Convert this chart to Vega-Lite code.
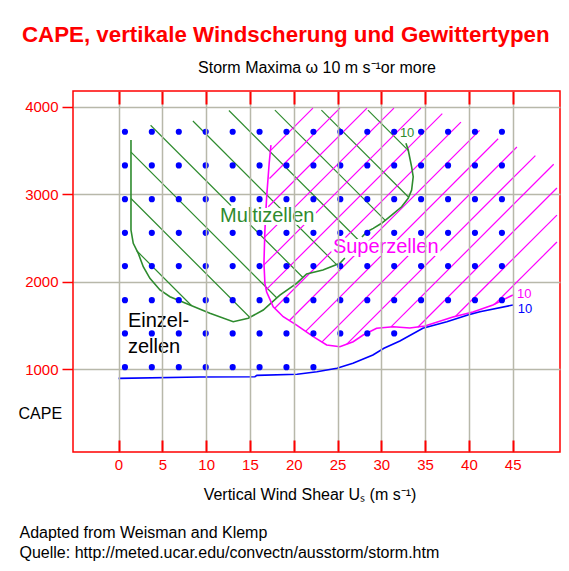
{
  "$schema": "https://vega.github.io/schema/vega-lite/v6.json",
  "width": 487,
  "height": 361,
  "autosize": "none",
  "padding": {"left": 73, "top": 91, "right": 9, "bottom": 119},
  "background": "#ffffff",
  "title": {
    "text": "CAPE, vertikale Windscherung und Gewittertypen",
    "color": "#ff0000",
    "font": "Liberation Sans",
    "fontSize": 22.3,
    "fontWeight": "bold",
    "anchor": "start",
    "frame": "group",
    "dx": -51,
    "offset": 13
  },
  "datasets": {
    "dots": [
      {"x": 0.73, "y": 3715}, {"x": 3.8, "y": 3715}, {"x": 6.88, "y": 3715}, {"x": 9.95, "y": 3715}, {"x": 13.03, "y": 3715}, {"x": 16.1, "y": 3715}, {"x": 19.17, "y": 3715}, {"x": 22.25, "y": 3715}, {"x": 25.32, "y": 3715}, {"x": 28.4, "y": 3715}, {"x": 31.47, "y": 3715}, {"x": 34.54, "y": 3715}, {"x": 37.62, "y": 3715}, {"x": 40.69, "y": 3715}, {"x": 43.77, "y": 3715},
      {"x": 0.73, "y": 3330}, {"x": 3.8, "y": 3330}, {"x": 6.88, "y": 3330}, {"x": 9.95, "y": 3330}, {"x": 13.03, "y": 3330}, {"x": 16.1, "y": 3330}, {"x": 19.17, "y": 3330}, {"x": 22.25, "y": 3330}, {"x": 25.32, "y": 3330}, {"x": 28.4, "y": 3330}, {"x": 31.47, "y": 3330}, {"x": 34.54, "y": 3330}, {"x": 37.62, "y": 3330}, {"x": 40.69, "y": 3330}, {"x": 43.77, "y": 3330},
      {"x": 0.73, "y": 2945}, {"x": 3.8, "y": 2945}, {"x": 6.88, "y": 2945}, {"x": 9.95, "y": 2945}, {"x": 13.03, "y": 2945}, {"x": 16.1, "y": 2945}, {"x": 19.17, "y": 2945}, {"x": 22.25, "y": 2945}, {"x": 25.32, "y": 2945}, {"x": 28.4, "y": 2945}, {"x": 31.47, "y": 2945}, {"x": 34.54, "y": 2945}, {"x": 37.62, "y": 2945}, {"x": 40.69, "y": 2945}, {"x": 43.77, "y": 2945},
      {"x": 0.73, "y": 2560}, {"x": 3.8, "y": 2560}, {"x": 6.88, "y": 2560}, {"x": 9.95, "y": 2560}, {"x": 13.03, "y": 2560}, {"x": 16.1, "y": 2560}, {"x": 19.17, "y": 2560}, {"x": 22.25, "y": 2560}, {"x": 25.32, "y": 2560}, {"x": 28.4, "y": 2560}, {"x": 31.47, "y": 2560}, {"x": 34.54, "y": 2560}, {"x": 37.62, "y": 2560}, {"x": 40.69, "y": 2560}, {"x": 43.77, "y": 2560},
      {"x": 0.73, "y": 2180}, {"x": 3.8, "y": 2180}, {"x": 6.88, "y": 2180}, {"x": 9.95, "y": 2180}, {"x": 13.03, "y": 2180}, {"x": 16.1, "y": 2180}, {"x": 19.17, "y": 2180}, {"x": 22.25, "y": 2180}, {"x": 25.32, "y": 2180}, {"x": 28.4, "y": 2180}, {"x": 31.47, "y": 2180}, {"x": 34.54, "y": 2180}, {"x": 37.62, "y": 2180}, {"x": 40.69, "y": 2180}, {"x": 43.77, "y": 2180},
      {"x": 0.73, "y": 1790}, {"x": 3.8, "y": 1790}, {"x": 6.88, "y": 1790}, {"x": 9.95, "y": 1790}, {"x": 13.03, "y": 1790}, {"x": 16.1, "y": 1790}, {"x": 19.17, "y": 1790}, {"x": 22.25, "y": 1790}, {"x": 25.32, "y": 1790}, {"x": 28.4, "y": 1790}, {"x": 31.47, "y": 1790}, {"x": 34.54, "y": 1790}, {"x": 37.62, "y": 1790}, {"x": 40.69, "y": 1790}, {"x": 43.77, "y": 1790},
      {"x": 0.73, "y": 1410}, {"x": 3.8, "y": 1410}, {"x": 6.88, "y": 1410}, {"x": 9.95, "y": 1410}, {"x": 13.03, "y": 1410}, {"x": 16.1, "y": 1410}, {"x": 19.17, "y": 1410}, {"x": 22.25, "y": 1410}, {"x": 25.32, "y": 1410}, {"x": 28.4, "y": 1410}, {"x": 31.47, "y": 1410},
      {"x": 0.73, "y": 1025}, {"x": 3.8, "y": 1025}, {"x": 6.88, "y": 1025}, {"x": 9.95, "y": 1025}, {"x": 13.03, "y": 1025}, {"x": 16.1, "y": 1025}, {"x": 19.17, "y": 1025}, {"x": 22.25, "y": 1025}
    ],
    "contours": [
      {"line": "multi-a", "typ": "multi", "i": 0, "x": 1.42, "y": 3621},
      {"line": "multi-a", "typ": "multi", "i": 1, "x": 1.42, "y": 2592},
      {"line": "multi-a", "typ": "multi", "i": 2, "x": 1.68, "y": 2440},
      {"line": "multi-a", "typ": "multi", "i": 3, "x": 2.25, "y": 2326},
      {"line": "multi-a", "typ": "multi", "i": 4, "x": 2.82, "y": 2173},
      {"line": "multi-a", "typ": "multi", "i": 5, "x": 3.58, "y": 2040},
      {"line": "multi-a", "typ": "multi", "i": 6, "x": 4.73, "y": 1907},
      {"line": "multi-a", "typ": "multi", "i": 7, "x": 5.87, "y": 1830},
      {"line": "multi-a", "typ": "multi", "i": 8, "x": 8.15, "y": 1735},
      {"line": "multi-a", "typ": "multi", "i": 9, "x": 10.43, "y": 1640},
      {"line": "multi-a", "typ": "multi", "i": 10, "x": 13.09, "y": 1544},
      {"line": "multi-a", "typ": "multi", "i": 11, "x": 14.81, "y": 1583},
      {"line": "multi-a", "typ": "multi", "i": 12, "x": 16.52, "y": 1678},
      {"line": "multi-a", "typ": "multi", "i": 13, "x": 18.42, "y": 1849},
      {"line": "multi-a", "typ": "multi", "i": 14, "x": 20.33, "y": 1983},
      {"line": "multi-a", "typ": "multi", "i": 15, "x": 21.47, "y": 2089},
      {"line": "multi-a", "typ": "multi", "i": 16, "x": 23.33, "y": 2135},
      {"line": "multi-a", "typ": "multi", "i": 17, "x": 25.27, "y": 2211},
      {"line": "multi-a", "typ": "multi", "i": 18, "x": 25.84, "y": 2272},
      {"line": "multi-b", "typ": "multi", "i": 0, "x": 27.79, "y": 2512},
      {"line": "multi-b", "typ": "multi", "i": 1, "x": 28.36, "y": 2573},
      {"line": "multi-b", "typ": "multi", "i": 2, "x": 29.08, "y": 2611},
      {"line": "multi-b", "typ": "multi", "i": 3, "x": 30.03, "y": 2669},
      {"line": "multi-b", "typ": "multi", "i": 4, "x": 31.18, "y": 2763},
      {"line": "multi-b", "typ": "multi", "i": 5, "x": 32.32, "y": 2858},
      {"line": "multi-b", "typ": "multi", "i": 6, "x": 33.07, "y": 2954},
      {"line": "multi-b", "typ": "multi", "i": 7, "x": 33.46, "y": 3049},
      {"line": "multi-b", "typ": "multi", "i": 8, "x": 33.64, "y": 3201},
      {"line": "multi-b", "typ": "multi", "i": 9, "x": 33.46, "y": 3315},
      {"line": "multi-b", "typ": "multi", "i": 10, "x": 33.07, "y": 3506},
      {"line": "multi-b", "typ": "multi", "i": 11, "x": 32.81, "y": 3583},
      {"line": "super", "typ": "super", "i": 0, "x": 17.4, "y": 3563},
      {"line": "super", "typ": "super", "i": 1, "x": 17.2, "y": 3358},
      {"line": "super", "typ": "super", "i": 2, "x": 16.91, "y": 2973},
      {"line": "super", "typ": "super", "i": 3, "x": 16.71, "y": 2592},
      {"line": "super", "typ": "super", "i": 4, "x": 16.6, "y": 2215},
      {"line": "super", "typ": "super", "i": 5, "x": 16.71, "y": 1983},
      {"line": "super", "typ": "super", "i": 6, "x": 16.91, "y": 1883},
      {"line": "super", "typ": "super", "i": 7, "x": 17.66, "y": 1715},
      {"line": "super", "typ": "super", "i": 8, "x": 18.8, "y": 1601},
      {"line": "super", "typ": "super", "i": 9, "x": 20.33, "y": 1506},
      {"line": "super", "typ": "super", "i": 10, "x": 22.23, "y": 1373},
      {"line": "super", "typ": "super", "i": 11, "x": 23.76, "y": 1278},
      {"line": "super", "typ": "super", "i": 12, "x": 25.27, "y": 1258},
      {"line": "super", "typ": "super", "i": 13, "x": 26.79, "y": 1315},
      {"line": "super", "typ": "super", "i": 14, "x": 27.93, "y": 1392},
      {"line": "super", "typ": "super", "i": 15, "x": 29.46, "y": 1469},
      {"line": "super", "typ": "super", "i": 16, "x": 31.36, "y": 1487},
      {"line": "super", "typ": "super", "i": 17, "x": 33.26, "y": 1472},
      {"line": "super", "typ": "super", "i": 18, "x": 34.98, "y": 1495},
      {"line": "super", "typ": "super", "i": 19, "x": 38.17, "y": 1598},
      {"line": "super", "typ": "super", "i": 20, "x": 40.46, "y": 1655},
      {"line": "super", "typ": "super", "i": 21, "x": 42.74, "y": 1735},
      {"line": "super", "typ": "super", "i": 22, "x": 45.02, "y": 1849},
      {"line": "grenze", "typ": "grenze", "i": 0, "x": 0.0, "y": 897},
      {"line": "grenze", "typ": "grenze", "i": 1, "x": 9.29, "y": 912},
      {"line": "grenze", "typ": "grenze", "i": 2, "x": 15.57, "y": 915},
      {"line": "grenze", "typ": "grenze", "i": 3, "x": 15.8, "y": 931},
      {"line": "grenze", "typ": "grenze", "i": 4, "x": 20.39, "y": 943},
      {"line": "grenze", "typ": "grenze", "i": 5, "x": 22.65, "y": 973},
      {"line": "grenze", "typ": "grenze", "i": 6, "x": 24.93, "y": 1012},
      {"line": "grenze", "typ": "grenze", "i": 7, "x": 26.76, "y": 1069},
      {"line": "grenze", "typ": "grenze", "i": 8, "x": 29.04, "y": 1164},
      {"line": "grenze", "typ": "grenze", "i": 9, "x": 30.3, "y": 1240},
      {"line": "grenze", "typ": "grenze", "i": 10, "x": 32.12, "y": 1323},
      {"line": "grenze", "typ": "grenze", "i": 11, "x": 34.74, "y": 1469},
      {"line": "grenze", "typ": "grenze", "i": 12, "x": 37.48, "y": 1544},
      {"line": "grenze", "typ": "grenze", "i": 13, "x": 39.88, "y": 1620},
      {"line": "grenze", "typ": "grenze", "i": 14, "x": 41.26, "y": 1658},
      {"line": "grenze", "typ": "grenze", "i": 15, "x": 45.02, "y": 1735}
    ],
    "hatch": [
      {"typ": "multi", "x": 2.1, "y": 2352, "x2": 8.32, "y2": 1729},
      {"typ": "multi", "x": 1.42, "y": 2952, "x2": 15.0, "y2": 1592},
      {"typ": "multi", "x": 1.42, "y": 3483, "x2": 18.08, "y2": 1815},
      {"typ": "multi", "x": 3.66, "y": 3790, "x2": 21.05, "y2": 2049},
      {"typ": "multi", "x": 8.49, "y": 3838, "x2": 24.89, "y2": 2197},
      {"typ": "multi", "x": 12.6, "y": 3958, "x2": 27.44, "y2": 2472},
      {"typ": "multi", "x": 17.85, "y": 3963, "x2": 30.45, "y2": 2703},
      {"typ": "multi", "x": 23.16, "y": 3963, "x2": 33.12, "y2": 2967},
      {"typ": "multi", "x": 28.47, "y": 3963, "x2": 33.07, "y2": 3503},
      {"typ": "super", "x": 17.4, "y": 3506, "x2": 22.19, "y2": 3986},
      {"typ": "super", "x": 17.23, "y": 3181, "x2": 25.27, "y2": 3986},
      {"typ": "super", "x": 17.09, "y": 2858, "x2": 28.36, "y2": 3986},
      {"typ": "super", "x": 16.71, "y": 2513, "x2": 31.44, "y2": 3986},
      {"typ": "super", "x": 16.6, "y": 2193, "x2": 34.52, "y2": 3986},
      {"typ": "super", "x": 16.86, "y": 1910, "x2": 36.96, "y2": 3922},
      {"typ": "super", "x": 17.83, "y": 1698, "x2": 39.09, "y2": 3826},
      {"typ": "super", "x": 19.51, "y": 1558, "x2": 41.22, "y2": 3731},
      {"typ": "super", "x": 21.36, "y": 1434, "x2": 43.34, "y2": 3635},
      {"typ": "super", "x": 23.21, "y": 1311, "x2": 45.48, "y2": 3541},
      {"typ": "super", "x": 26.06, "y": 1288, "x2": 47.59, "y2": 3443},
      {"typ": "super", "x": 31.11, "y": 1485, "x2": 49.68, "y2": 3344},
      {"typ": "super", "x": 34.16, "y": 1481, "x2": 50.05, "y2": 3072},
      {"typ": "super", "x": 38.48, "y": 1606, "x2": 50.05, "y2": 2763},
      {"typ": "super", "x": 42.97, "y": 1746, "x2": 50.05, "y2": 2455}
    ],
    "labels": [
      {"label": "Multizellen", "typ": "multi", "x": 11.58, "y": 2683},
      {"label": "Superzellen", "typ": "super", "x": 24.47, "y": 2329},
      {"label": "Einzel-", "typ": "einzel", "x": 1.07, "y": 1483},
      {"label": "zellen", "typ": "einzel", "x": 1.07, "y": 1186}
    ],
    "values10": [
      {"label": "10", "typ": "multi", "x": 32.12, "y": 3655},
      {"label": "10", "typ": "super", "x": 45.48, "y": 1812},
      {"label": "10", "typ": "grenze", "x": 45.59, "y": 1640}
    ]
  },
  "layer": [
    {
      "encoding": {
        "x": {
          "field": "x",
          "type": "quantitative",
          "scale": {"domain": [-5.2, 50.4], "nice": false, "zero": false},
          "axis": {
            "orient": "bottom",
            "values": [0, 5, 10, 15, 20, 25, 30, 35, 40, 45],
            "grid": true,
            "zindex": 1,
            "tickSize": -12,
            "tickWidth": 2,
            "labelPadding": 17,
            "title": "Vertical Wind Shear Uₛ (m s⁻¹)",
            "titleFontSize": 16,
            "titleX": 236.5,
            "titleY": 47,
            "titleAlign": "center",
            "titleBaseline": "alphabetic"
          }
        },
        "y": {
          "field": "y",
          "type": "quantitative",
          "scale": {"domain": [55, 4181], "nice": false, "zero": false},
          "axis": {
            "orient": "left",
            "values": [1000, 2000, 3000, 4000],
            "format": "d",
            "grid": true,
            "tickSize": 11,
            "labelPadding": 4,
            "title": "CAPE",
            "titleFontSize": 16,
            "titleAngle": 0,
            "titleAlign": "left",
            "titleBaseline": "alphabetic",
            "titleX": -55,
            "titleY": 327
          }
        }
      },
      "layer": [
        {
          "data": {"name": "hatch"},
          "mark": {"type": "rule", "strokeWidth": 1.2},
          "encoding": {
            "x2": {"field": "x2"},
            "y2": {"field": "y2"},
            "color": {"field": "typ", "type": "nominal", "scale": {"domain": ["multi", "super", "einzel", "grenze"], "range": ["#2e8b2e", "#ff00ff", "#000000", "#0000ff"]}, "legend": null}
          }
        },
        {
          "data": {"name": "contours"},
          "mark": {"type": "line", "strokeWidth": 1.6},
          "encoding": {
            "color": {"field": "typ", "type": "nominal", "legend": null},
            "detail": {"field": "line"},
            "order": {"field": "i", "type": "quantitative"}
          }
        },
        {
          "data": {"name": "labels"},
          "mark": {"type": "text", "align": "left", "baseline": "alphabetic", "fontSize": 20, "fill": "#ffffff", "stroke": "#ffffff", "strokeWidth": 6, "strokeJoin": "round"},
          "encoding": {"text": {"field": "label"}}
        },
        {
          "data": {"name": "labels"},
          "mark": {"type": "text", "align": "left", "baseline": "alphabetic", "fontSize": 20},
          "encoding": {
            "text": {"field": "label"},
            "color": {"field": "typ", "type": "nominal", "legend": null}
          }
        },
        {
          "data": {"name": "values10"},
          "mark": {"type": "text", "align": "left", "baseline": "alphabetic", "fontSize": 13},
          "encoding": {
            "text": {"field": "label"},
            "color": {"field": "typ", "type": "nominal", "legend": null}
          }
        }
      ]
    },
    {
      "data": {"name": "dots"},
      "mark": {"type": "circle", "size": 38, "color": "#0000ff", "opacity": 1},
      "encoding": {
        "x": {
          "field": "x",
          "type": "quantitative",
          "scale": {"domain": [-5.2, 50.4], "nice": false, "zero": false},
          "axis": {
            "orient": "top",
            "values": [0, 5, 10, 15, 20, 25, 30, 35, 40, 45],
            "grid": false,
            "zindex": 1,
            "labels": false,
            "tickSize": -13,
            "tickWidth": 2,
            "title": "Storm Maxima ω 10 m s⁻¹or more",
            "titleFontSize": 16,
            "titleX": 243.5,
            "titleY": -19,
            "titleAlign": "center",
            "titleBaseline": "alphabetic"
          }
        },
        "y": {
          "field": "y",
          "type": "quantitative",
          "scale": {"domain": [55, 4181], "nice": false, "zero": false},
          "axis": {
            "orient": "right",
            "grid": false,
            "labels": false,
            "ticks": false,
            "title": ["Adapted from Weisman and Klemp", "Quelle: http://meted.ucar.edu/convectn/ausstorm/storm.htm"],
            "titleFontSize": 16,
            "titleLineHeight": 20,
            "titleAngle": 0,
            "titleAlign": "left",
            "titleBaseline": "alphabetic",
            "titleX": -541,
            "titleY": 446
          }
        }
      }
    }
  ],
  "resolve": {
    "scale": {"x": "independent", "y": "independent"},
    "axis": {"x": "independent", "y": "independent"}
  },
  "config": {
    "font": "Liberation Sans",
    "view": {"stroke": "#ff0000", "strokeWidth": 1.5},
    "axis": {
      "domain": false,
      "titleFont": "Liberation Sans",
      "titleFontWeight": "normal",
      "titleColor": "#000000",
      "labelFont": "Liberation Sans",
      "labelColor": "#ff0000",
      "labelFontSize": 15,
      "tickColor": "#ff0000",
      "tickWidth": 1.5,
      "gridColor": "#b8b8aa",
      "gridWidth": 1.5,
      "gridOpacity": 1
    }
  }
}
